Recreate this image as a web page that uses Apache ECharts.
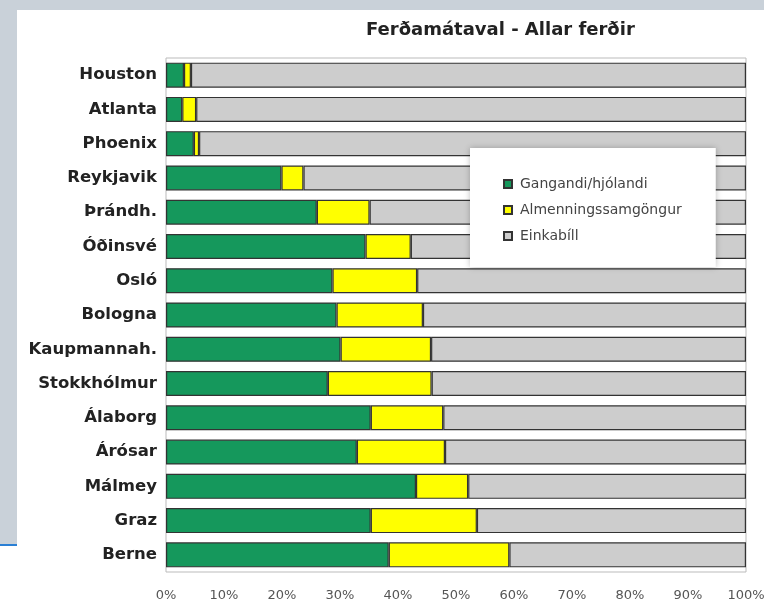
<!DOCTYPE html>
<html>
<head>
<meta charset="utf-8">
<script src="https://cdn.jsdelivr.net/npm/echarts@6/dist/echarts.min.js"></script>
<style>
  html, body { margin: 0; padding: 0; background: #fff; }
  #chart { width: 764px; height: 611px; }
</style>
</head>
<body>
<div id="chart"></div>
<script>
var cities = ['Houston','Atlanta','Phoenix','Reykjavik','Þrándh.','Óðinsvé','Osló','Bologna',
    'Kaupmannah.','Stokkhólmur','Álaborg','Árósar','Málmey','Graz','Berne'];

// share of trips, %
var walkData = [3.1, 2.8, 4.8, 19.9, 26.0, 34.4, 28.7, 29.4, 30.1, 27.9, 35.3, 32.9, 43.1, 35.3, 38.4];
var transitData = [1.2, 2.4, 0.9, 3.8, 9.1, 7.8, 14.6, 14.9, 15.6, 17.9, 12.5, 15.2, 9.0, 18.3, 20.8];
var carData = [95.7, 94.8, 94.3, 76.3, 64.9, 57.8, 56.7, 55.7, 54.3, 54.2, 52.2, 51.9, 47.9, 46.4, 40.8];

var seriesNames = ['Gangandi/hjólandi', 'Almenningssamgöngur', 'Einkabíll'];
var seriesColors = ['#15985c', '#ffff00', '#cdcdcd'];

var chart = echarts.init(document.getElementById('chart'));

var seriesList = [];
var allData = [walkData, transitData, carData];
for (var i = 0; i < seriesNames.length; i++) {
    seriesList.push({
        name: seriesNames[i],
        type: 'bar',
        stack: 'total',
        barWidth: 25,
        data: allData[i],
        itemStyle: {
            color: seriesColors[i],
            borderColor: '#333',
            borderWidth: 1.2
        }
    });
}

var option = {
    animation: false,
    backgroundColor: '#fff',
    graphic: [
        { type: 'rect', z: -10, shape: { x: 0, y: 0, width: 764, height: 10 }, style: { fill: '#c9d1d9' } },
        { type: 'rect', z: -10, shape: { x: 0, y: 0, width: 17, height: 545 }, style: { fill: '#c9d1d9' } },
        { type: 'rect', z: -10, shape: { x: 0, y: 544, width: 17, height: 2 }, style: { fill: '#2a7fd4' } }
    ],
    title: {
        text: 'Ferðamátaval - Allar ferðir',
        left: 366,
        top: 21,
        padding: 0,
        textStyle: {
            fontFamily: 'DejaVu Sans',
            fontSize: 18,
            fontWeight: 'bold',
            color: '#222'
        }
    },
    legend: {
        data: seriesNames,
        orient: 'vertical',
        left: 470,
        top: 148,
        padding: [29, 34, 24, 33],
        itemWidth: 8,
        itemHeight: 8,
        itemGap: 12,
        icon: 'rect',
        backgroundColor: '#fff',
        shadowColor: 'rgba(0,0,0,0.25)',
        shadowBlur: 6,
        textStyle: {
            fontFamily: 'DejaVu Sans',
            fontSize: 14,
            color: '#444',
            padding: [0, 0, 0, 3]
        }
    },
    grid: {
        left: 166,
        right: 18,
        top: 58,
        bottom: 39,
        outerBoundsMode: 'none',
        show: true,
        borderColor: '#bbb',
        borderWidth: 1
    },
    xAxis: {
        type: 'value',
        min: 0,
        max: 100,
        interval: 10,
        axisLine: { show: false },
        axisTick: { show: false },
        splitLine: { show: false },
        axisLabel: {
            formatter: '{value}%',
            margin: 17,
            fontFamily: 'DejaVu Sans',
            fontSize: 13,
            color: '#555'
        }
    },
    yAxis: {
        type: 'category',
        inverse: true,
        data: cities,
        axisLine: { show: false },
        axisTick: { show: false },
        axisLabel: {
            margin: 9,
            fontFamily: 'DejaVu Sans',
            fontSize: 16.5,
            fontWeight: 'bold',
            color: '#222'
        }
    },
    series: seriesList
};

chart.setOption(option);
</script>
</body>
</html>
